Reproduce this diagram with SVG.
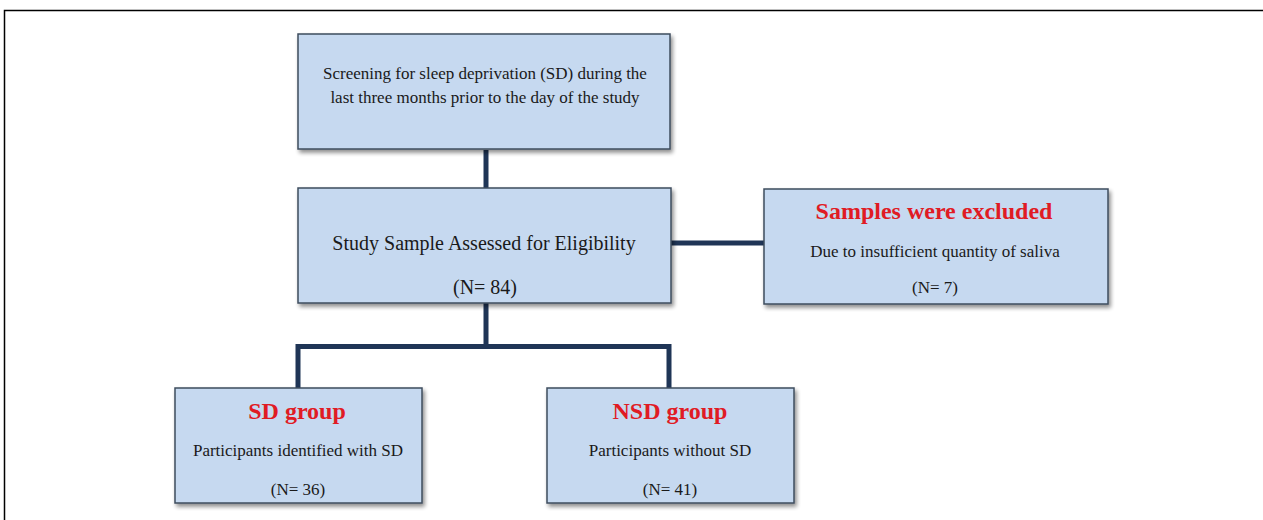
<svg xmlns="http://www.w3.org/2000/svg" width="1263" height="520" viewBox="0 0 1263 520">
<defs>
<filter id="sh" x="-5%" y="-5%" width="115%" height="120%">
<feGaussianBlur in="SourceAlpha" stdDeviation="2"/>
<feOffset dx="2" dy="3" result="b"/>
<feComponentTransfer><feFuncA type="linear" slope="0.45"/></feComponentTransfer>
<feMerge><feMergeNode/><feMergeNode in="SourceGraphic"/></feMerge>
</filter>
</defs>
<style>
.box{fill:#c6d9f0;stroke:#3e4c5e;stroke-width:1.5;filter:url(#sh)}
.t{font-family:"Liberation Serif","Times New Roman",serif;fill:#1a1a1a;text-anchor:middle}
.r{font-family:"Liberation Serif","Times New Roman",serif;fill:#e01b24;font-weight:bold;text-anchor:middle;font-size:24px}
.c{fill:none;stroke:#1f3556;stroke-width:5}
</style>
<rect width="1263" height="520" fill="#ffffff"/>
<path d="M4.5 520 V10.5 H1263" fill="none" stroke="#000" stroke-width="1.5"/>
<g id="connectors">
<line class="c" x1="486" y1="150" x2="486" y2="188"/>
<line class="c" x1="671" y1="243" x2="764" y2="243"/>
<polyline class="c" points="486,303 486,346.5 298,346.5 298,388"/>
<polyline class="c" points="486,346.5 669,346.5 669,388"/>
</g>
<g id="screening">
<rect class="box" x="298" y="34" width="372" height="115"/>
<text class="t" x="485" y="79" font-size="17">Screening for sleep deprivation (SD)  during the</text>
<text class="t" x="485" y="103" font-size="17">last three months prior to the day of the study</text>
</g>
<g id="assessed">
<rect class="box" x="298" y="188" width="373" height="115"/>
<text class="t" x="484" y="250" font-size="20">Study Sample Assessed for Eligibility</text>
<text class="t" x="485" y="294" font-size="20">(N= 84)</text>
</g>
<g id="excluded">
<rect class="box" x="764" y="189" width="344" height="115"/>
<text class="r" x="934" y="219">Samples were excluded</text>
<text class="t" x="935" y="257" font-size="17">Due to insufficient quantity of saliva</text>
<text class="t" x="935" y="293" font-size="17">(N= 7)</text>
</g>
<g id="sd">
<rect class="box" x="175" y="388" width="247" height="115"/>
<text class="r" x="297" y="419">SD group</text>
<text class="t" x="298" y="456" font-size="17">Participants identified with SD</text>
<text class="t" x="298" y="495" font-size="17">(N= 36)</text>
</g>
<g id="nsd">
<rect class="box" x="547" y="388" width="247" height="115"/>
<text class="r" x="670" y="419">NSD group</text>
<text class="t" x="670" y="456" font-size="17">Participants without SD</text>
<text class="t" x="670" y="495" font-size="17">(N= 41)</text>
</g>
</svg>
